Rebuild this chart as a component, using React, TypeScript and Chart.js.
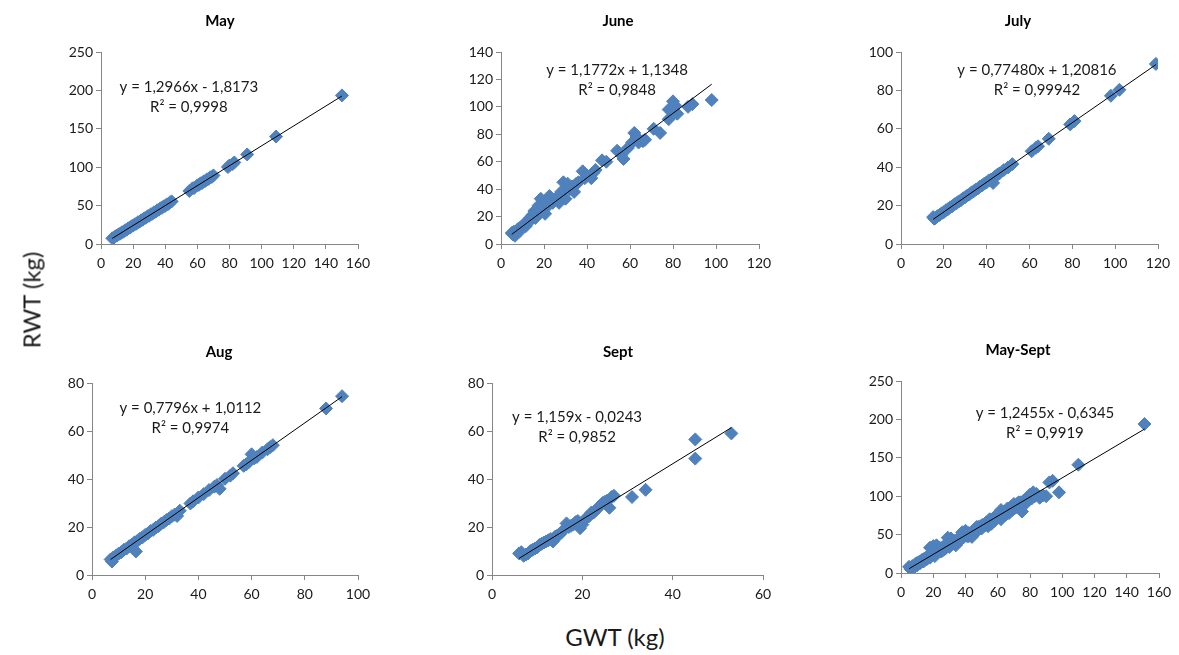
import React, { useEffect, useRef } from "react";
import { Chart, registerables } from "chart.js";

Chart.register(...registerables);

// ---------------- DATA ----------------
const panelTitles = ["May", "June", "July", "Aug", "Sept", "May-Sept"];

const mayGWT = [7, 8, 9, 10, 11, 12, 13, 14, 15, 16, 17, 18, 19, 20, 21, 22, 23, 24, 25, 26, 27, 28, 29, 30, 31, 32, 33, 34, 35, 36, 37, 38, 39, 40, 41, 42, 43, 44, 55, 57, 58, 60, 61, 62, 63, 64, 65, 66, 67, 68, 69, 70, 79, 80, 82, 83, 91, 109, 150];
const mayRWT = [7.5, 8.2, 10.1, 11.0, 12.6, 13.5, 15.2, 16.0, 17.9, 18.6, 20.5, 21.2, 23.1, 24.0, 25.6, 26.4, 28.3, 29.0, 30.9, 31.6, 33.5, 34.2, 36.1, 36.8, 38.7, 39.4, 41.3, 42.0, 43.9, 44.6, 46.5, 47.1, 49.0, 49.7, 51.6, 52.3, 54.2, 55.5, 69.0, 72.5, 73.0, 76.4, 77.0, 79.0, 79.5, 81.6, 82.2, 84.2, 84.8, 86.8, 87.3, 89.3, 100.2, 102.3, 104.1, 106.2, 116.6, 139.9, 193.5];

const juneGWT = [5, 5.5, 6, 6.5, 7, 7.5, 8, 8.5, 9, 9.5, 10, 10.5, 11, 11.5, 12, 12.5, 13, 13.5, 14, 14.5, 15, 15.5, 16, 16.5, 17, 17.5, 18, 18.5, 19, 19.5, 20, 20.5, 21, 22, 22.5, 23, 24, 25, 26, 27, 28, 29, 30, 31, 32, 33, 34, 35, 36, 38, 39, 40, 42, 43, 44, 47, 49, 54, 56, 57, 59, 61, 62, 63, 64, 66, 67, 71, 74, 78, 78, 80, 81, 82, 87, 89, 98];
const juneRWT = [8, 7, 9, 6, 9, 10, 11, 9, 12, 12, 13, 14, 15, 13, 16, 17, 16, 19, 18, 21, 20, 24, 19, 25, 22, 28, 26, 33, 24, 30, 27, 22, 31, 28, 35, 33, 30, 32, 34, 30, 38, 45, 33, 44, 40, 42, 38, 44, 45, 53, 48, 50, 48, 52, 54, 61, 60, 68, 65, 62, 70, 74, 81, 78, 74, 75, 76, 84, 81, 91, 98, 104, 101, 95, 100, 102, 105];

const julyGWT = [15, 15.5, 16, 17, 18, 19, 20, 21, 22, 23, 24, 25, 26, 27, 28, 29, 30, 31, 32, 33, 34, 35, 36, 37, 38, 39, 40, 41, 42, 43, 44, 45, 46, 48, 50, 52, 61, 63, 64, 69, 79, 81, 98, 102, 119];
const julyRWT = [14.0, 13.2, 13.5, 14.5, 15.1, 16.0, 16.6, 17.6, 18.2, 19.1, 19.7, 20.7, 21.3, 22.2, 22.8, 23.8, 24.4, 25.3, 25.9, 26.9, 27.5, 28.4, 29.0, 30.0, 30.6, 31.5, 32.1, 33.1, 33.6, 31.8, 35.2, 36.1, 36.8, 38.5, 39.9, 41.6, 48.3, 50.1, 50.9, 54.8, 62.3, 64.0, 77.2, 80.3, 93.8];

const augGWT = [7, 7.5, 8, 9, 10, 11, 12, 13, 14, 15, 16, 16.5, 17, 18, 19, 20, 21, 22, 23, 24, 25, 26, 27, 28, 29, 30, 31, 32, 33, 37, 38, 40, 42, 44, 46, 47, 48, 50, 52, 53, 57, 58, 59, 60, 61, 62, 64, 66, 67, 68, 88, 94];
const augRWT = [6.5, 5.6, 7.3, 8.0, 8.9, 9.5, 10.5, 11.0, 12.0, 12.6, 13.6, 9.8, 14.2, 15.1, 15.7, 16.7, 17.3, 18.3, 18.8, 19.8, 20.4, 21.4, 22.0, 22.9, 23.5, 24.5, 25.1, 24.6, 26.8, 29.8, 30.7, 32.3, 33.7, 35.4, 36.8, 37.5, 35.9, 40.1, 41.4, 42.4, 45.5, 46.1, 47.1, 50.3, 48.6, 49.2, 51.0, 52.4, 53.3, 54.1, 69.4, 74.5];

const septGWT = [6, 6.5, 7, 7.5, 8, 8.5, 9, 9.5, 10, 10.5, 11, 11.5, 12, 12.5, 13, 13.5, 14, 14.5, 15, 15.5, 16, 16.5, 17, 17.5, 18, 18.5, 19, 19.5, 20, 20.5, 21, 21.5, 22, 22.5, 23, 23.5, 24, 24.5, 25, 25.5, 26, 26.5, 27, 31, 34, 45, 45, 53];
const septRWT = [9, 9.5, 8, 8.5, 9, 10, 10.5, 11, 11.5, 12.5, 13, 13.5, 14, 14.5, 15, 14, 16, 16.5, 17, 18, 19, 21.5, 20, 20.5, 21, 22, 22.5, 19.5, 21, 23, 24, 24.5, 26, 26, 27, 28, 29, 30, 30.5, 31, 28, 32.5, 33, 32.5, 35.5, 56.5, 48.5, 59];

const allGWT = [5, 6, 7, 8, 9, 10, 11, 12, 13, 14, 15, 16, 17, 18, 18, 19, 20, 21, 22, 22, 23, 24, 25, 26, 27, 28, 29, 30, 31, 32, 33, 34, 35, 36, 37, 38, 39, 40, 41, 42, 43, 44, 45, 46, 47, 48, 49, 50, 51, 52, 53, 54, 55, 56, 57, 58, 59, 60, 61, 62, 62, 63, 64, 65, 66, 67, 68, 69, 70, 71, 72, 73, 74, 75, 76, 77, 78, 79, 80, 81, 82, 83, 84, 86, 88, 90, 92, 94, 98, 110, 151,
  10, 12, 14, 16, 20, 24, 26, 28, 30, 32, 34, 36, 40, 42, 44, 46, 48, 50, 52, 54, 56, 58, 60, 64, 66, 68, 70, 72, 74, 76, 78, 80, 82];
const allRWT = [8, 5, 9, 7, 12, 10, 14, 13, 17, 15, 19, 18, 23, 20, 33, 25, 35, 22, 30, 36, 27, 33, 28, 34, 31, 37, 46, 34, 45, 38, 42, 36, 44, 41, 46, 53, 47, 55, 48, 52, 50, 47, 56, 52, 60, 57, 60, 58, 63, 62, 66, 61, 70, 64, 71, 68, 75, 72, 78, 82, 70, 77, 80, 76, 84, 78, 86, 82, 90, 85, 88, 92, 86, 80, 94, 90, 98, 95, 102, 97, 105, 100, 103, 98, 101, 100, 118, 120, 105, 141, 194,
  13, 15, 18, 20, 26, 29, 30, 33, 40, 41, 40, 45, 50, 48, 53, 58, 60, 62, 64, 66, 68, 72, 76, 78, 80, 84, 86, 90, 92, 90, 96, 98, 100];

const gwtSeries = [mayGWT, juneGWT, julyGWT, augGWT, septGWT, allGWT];
const rwtSeries = [mayRWT, juneRWT, julyRWT, augRWT, septRWT, allRWT];

const trendSlopes = [1.2966, 1.1772, 0.7748, 0.7796, 1.159, 1.2455];
const trendIntercepts = [-1.8173, 1.1348, 1.20816, 1.0112, -0.0243, -0.6345];
const equationLabels = ["y = 1,2966x - 1,8173", "y = 1,1772x + 1,1348", "y = 0,77480x + 1,20816", "y = 0,7796x + 1,0112", "y = 1,159x - 0,0243", "y = 1,2455x - 0,6345"];
const r2Labels = ["R² = 0,9998", "R² = 0,9848", "R² = 0,99942", "R² = 0,9974", "R² = 0,9852", "R² = 0,9919"];

const xMaxes = [160, 120, 120, 100, 60, 160];
const xSteps = [20, 20, 20, 20, 20, 20];
const yMaxes = [250, 140, 100, 80, 80, 250];
const ySteps = [50, 20, 20, 20, 20, 50];

const yAxisTitle = "RWT (kg)";
const xAxisTitle = "GWT (kg)";

// ---------------- LAYOUT (pixels) ----------------
const plotBoxes = [
  { left: 101, right: 358, top: 52, bottom: 244, titleX: 220, eqFx: 0.342, eqFy: 0.182 },
  { left: 501, right: 759, top: 52, bottom: 244, titleX: 618, eqFx: 0.45, eqFy: 0.094 },
  { left: 901, right: 1158, top: 52, bottom: 244, titleX: 1018, eqFx: 0.529, eqFy: 0.094 },
  { left: 92, right: 358, top: 383, bottom: 575, titleX: 219, eqFx: 0.37, eqFy: 0.13 },
  { left: 492, right: 763, top: 383, bottom: 575, titleX: 618, eqFx: 0.314, eqFy: 0.177 },
  { left: 901, right: 1159, top: 381, bottom: 573, titleX: 1018, eqFx: 0.558, eqFy: 0.167 },
];

const FONT = "Lato, 'Open Sans', 'DejaVu Sans', sans-serif";
const MARKER = "#4F81BD";
const AXIS = "#868686";
const TEXT = "#1a1a1a";

const TITLE_BOX = 44;
const X_AXIS_H = 40;
const Y_AXIS_W = 60;

const eqPlugin = {
  id: "eqText",
  afterDatasetsDraw(chart: any, _args: any, opts: any) {
    const { ctx, chartArea } = chart;
    ctx.save();
    ctx.font = `15px ${FONT}`;
    ctx.fillStyle = TEXT;
    ctx.textAlign = "center";
    ctx.textBaseline = "middle";
    const x = chartArea.left + opts.fx * (chartArea.right - chartArea.left);
    const y = chartArea.top + opts.fy * (chartArea.bottom - chartArea.top);
    ctx.fillText(opts.line1, x, y);
    ctx.fillText(opts.line2, x, y + 20);
    ctx.restore();
  },
};

function Panel({ idx }: { idx: number }) {
  const ref = useRef<HTMLCanvasElement>(null);
  const box = plotBoxes[idx];
  const canvasLeft = box.left - Y_AXIS_W;
  const canvasTop = box.top - TITLE_BOX;
  // canvas centred on the title position, so the full-width title lands there
  const width = 2 * (box.titleX - canvasLeft);
  const height = TITLE_BOX + (box.bottom - box.top) + X_AXIS_H;
  const rightRoom = canvasLeft + width - box.right;

  useEffect(() => {
    if (!ref.current) return;
    const gwt = gwtSeries[idx];
    const rwt = rwtSeries[idx];
    const pts = gwt.map((g, i) => ({ x: g, y: rwt[i] }));
    const xLo = Math.min(...gwt);
    const xHi = Math.max(...gwt);
    const m = trendSlopes[idx];
    const b = trendIntercepts[idx];
    const trend = [
      { x: xLo, y: m * xLo + b },
      { x: xHi, y: m * xHi + b },
    ];
    const tickFont = { family: FONT, size: 14 };
    const chart = new Chart(ref.current, {
      type: "scatter",
      data: {
        datasets: [
          {
            label: "Linear",
            data: trend,
            showLine: true,
            borderColor: "#000000",
            borderWidth: 1,
            pointRadius: 0,
            order: 0,
          } as any,
          {
            label: panelTitles[idx],
            data: pts,
            pointStyle: "rectRot",
            pointRadius: 6.5,
            backgroundColor: MARKER,
            borderColor: MARKER,
            borderWidth: 1,
            order: 1,
          } as any,
        ],
      },
      options: {
        animation: false,
        responsive: false,
        events: [],
        layout: { padding: 0 },
        plugins: {
          legend: { display: false },
          tooltip: { enabled: false },
          title: {
            display: true,
            text: panelTitles[idx],
            color: "#000",
            font: { family: FONT, size: 15, weight: "bold" },
            padding: { top: 4, bottom: 22 },
          },
          eqText: { fx: box.eqFx, fy: box.eqFy, line1: equationLabels[idx], line2: r2Labels[idx] },
        } as any,
        scales: {
          x: {
            type: "linear",
            min: 0,
            max: xMaxes[idx],
            ticks: { stepSize: xSteps[idx], font: tickFont, color: TEXT, padding: 6, maxRotation: 0, autoSkip: false },
            grid: { display: true, drawOnChartArea: false, drawTicks: true, tickLength: 5, color: AXIS },
            border: { display: true, color: AXIS, width: 1 },
            afterFit: (s: any) => {
              s.height = X_AXIS_H;
            },
          },
          y: {
            type: "linear",
            min: 0,
            max: yMaxes[idx],
            ticks: { stepSize: ySteps[idx], font: tickFont, color: TEXT, padding: 3, autoSkip: false },
            grid: { display: true, drawOnChartArea: false, drawTicks: true, tickLength: 5, color: AXIS },
            border: { display: true, color: AXIS, width: 1 },
            afterFit: (s: any) => {
              s.width = Y_AXIS_W;
            },
          },
          // empty spacer on the right, keeps the plot area in place
          spacer: {
            type: "linear",
            position: "right",
            display: true,
            ticks: { display: false },
            grid: { display: false, drawTicks: false },
            border: { display: false },
            afterFit: (s: any) => {
              s.width = rightRoom;
            },
          },
        } as any,
      },
      plugins: [eqPlugin as any],
    });
    return () => chart.destroy();
  }, [idx]);

  return (
    <canvas
      ref={ref}
      width={width}
      height={height}
      style={{ position: "absolute", left: canvasLeft, top: canvasTop, width, height }}
    />
  );
}

export default function App() {
  return (
    <div
      style={{
        position: "fixed",
        left: 0,
        top: 0,
        width: 1179,
        height: 655,
        overflow: "hidden",
        background: "#ffffff",
      }}
    >
      {panelTitles.map((_, i) => (
        <Panel key={i} idx={i} />
      ))}
      <div
        style={{
          position: "absolute",
          left: 31,
          top: 300,
          transform: "translate(-50%, -50%) rotate(-90deg)",
          fontFamily: FONT,
          fontSize: 24,
          color: TEXT,
          whiteSpace: "nowrap",
        }}
      >
        {yAxisTitle}
      </div>
      <div
        style={{
          position: "absolute",
          left: 615,
          top: 636,
          transform: "translate(-50%, -50%)",
          fontFamily: FONT,
          fontSize: 24,
          color: TEXT,
          whiteSpace: "nowrap",
        }}
      >
        {xAxisTitle}
      </div>
    </div>
  );
}
